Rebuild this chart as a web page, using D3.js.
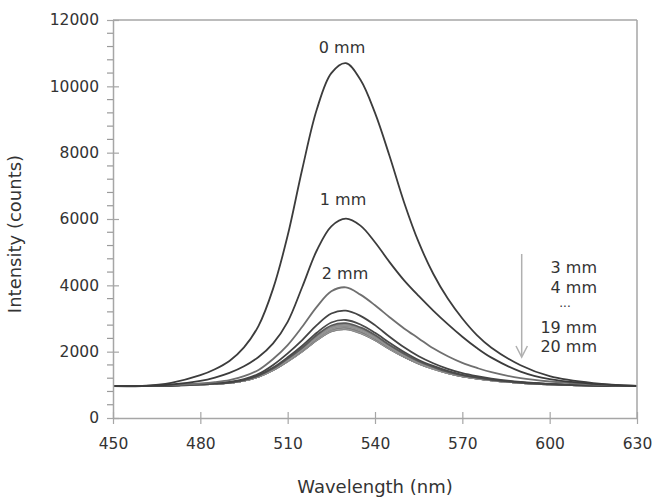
<!DOCTYPE html>
<html>
<head>
<meta charset="utf-8">
<script src="https://cdn.jsdelivr.net/npm/d3@7"></script>
<style>
  body { margin: 0; background: #fff; }
  svg text { font-family: "DejaVu Sans", sans-serif; fill: #333; }
</style>
</head>
<body>
<div id="chart"></div>
<script>
// wavelength grid (nm) where the curves were read
const wavelengths = [450, 460, 470, 480, 485, 490, 495, 500, 505, 510, 515, 520, 525, 530, 535, 540, 545, 550, 555, 560, 565, 570, 575, 580, 590, 600, 615, 630];

// intensity (counts) per distance
const mm0  = [960, 970, 1060, 1290, 1470, 1720, 2130, 2780, 3900, 5500, 7500, 9300, 10400, 10700, 10200, 9200, 7900, 6500, 5300, 4350, 3600, 3000, 2500, 2120, 1590, 1260, 1050, 965];
const mm1  = [960, 963, 1010, 1120, 1220, 1360, 1560, 1840, 2250, 2900, 3950, 5050, 5780, 6010, 5800, 5300, 4700, 4150, 3680, 3240, 2830, 2450, 2110, 1820, 1400, 1170, 1030, 965];
const mm2  = [960, 962, 990, 1040, 1080, 1140, 1260, 1450, 1780, 2200, 2750, 3350, 3820, 3940, 3720, 3400, 3040, 2700, 2400, 2100, 1860, 1660, 1510, 1380, 1200, 1100, 1010, 965];
const mm3  = [960, 960, 980, 1025, 1050, 1085, 1170, 1330, 1600, 1950, 2350, 2800, 3150, 3235, 3080, 2800, 2450, 2130, 1860, 1650, 1480, 1350, 1260, 1190, 1090, 1030, 980, 965];
const mm4  = [960, 960, 980, 1015, 1040, 1070, 1150, 1290, 1520, 1830, 2180, 2570, 2880, 2955, 2820, 2570, 2270, 1990, 1750, 1570, 1420, 1300, 1225, 1160, 1070, 1020, 980, 965];
const mm5  = [960, 960, 980, 1015, 1040, 1070, 1140, 1280, 1490, 1790, 2120, 2500, 2790, 2860, 2730, 2500, 2200, 1940, 1710, 1540, 1390, 1290, 1215, 1150, 1070, 1020, 980, 965];
const mm6  = [960, 960, 975, 1012, 1035, 1065, 1140, 1270, 1485, 1770, 2100, 2465, 2750, 2820, 2695, 2465, 2180, 1915, 1695, 1525, 1385, 1280, 1210, 1150, 1065, 1015, 975, 965];
const mm7  = [960, 960, 975, 1012, 1035, 1065, 1135, 1265, 1475, 1755, 2080, 2440, 2720, 2790, 2665, 2440, 2160, 1900, 1685, 1515, 1380, 1275, 1205, 1145, 1065, 1015, 975, 965];
const mm8  = [960, 960, 975, 1012, 1035, 1065, 1135, 1260, 1470, 1750, 2065, 2425, 2705, 2770, 2650, 2425, 2145, 1890, 1675, 1510, 1375, 1270, 1200, 1145, 1065, 1015, 975, 965];
const mm9  = [960, 960, 975, 1012, 1033, 1060, 1135, 1260, 1465, 1740, 2055, 2410, 2690, 2755, 2635, 2410, 2135, 1885, 1670, 1505, 1370, 1270, 1200, 1140, 1060, 1015, 975, 965];
const mm10 = [960, 960, 975, 1012, 1033, 1060, 1130, 1255, 1460, 1735, 2045, 2400, 2675, 2740, 2620, 2400, 2125, 1875, 1665, 1500, 1365, 1265, 1195, 1140, 1060, 1015, 975, 965];
const mm11 = [960, 960, 975, 1012, 1033, 1060, 1130, 1255, 1460, 1730, 2040, 2390, 2665, 2730, 2610, 2390, 2120, 1870, 1660, 1495, 1365, 1265, 1195, 1140, 1060, 1015, 975, 965];
const mm12 = [960, 960, 975, 1012, 1033, 1060, 1130, 1255, 1455, 1725, 2035, 2385, 2655, 2720, 2600, 2385, 2115, 1865, 1655, 1495, 1360, 1260, 1195, 1140, 1060, 1015, 975, 965];
const mm13 = [960, 960, 975, 1012, 1033, 1060, 1130, 1255, 1455, 1720, 2030, 2375, 2645, 2712, 2590, 2375, 2105, 1860, 1655, 1490, 1360, 1260, 1190, 1135, 1060, 1015, 975, 965];
const mm14 = [960, 960, 975, 1012, 1033, 1060, 1130, 1250, 1450, 1720, 2025, 2370, 2640, 2705, 2585, 2370, 2105, 1855, 1650, 1490, 1360, 1260, 1190, 1135, 1060, 1015, 975, 965];
const mm15 = [960, 960, 975, 1012, 1033, 1060, 1130, 1250, 1450, 1715, 2020, 2365, 2635, 2698, 2580, 2365, 2100, 1855, 1650, 1485, 1355, 1260, 1190, 1135, 1060, 1015, 975, 965];
const mm16 = [960, 960, 975, 1012, 1033, 1060, 1125, 1250, 1445, 1715, 2020, 2360, 2625, 2692, 2575, 2360, 2095, 1850, 1645, 1485, 1355, 1255, 1190, 1135, 1060, 1015, 975, 965];
const mm17 = [960, 960, 975, 1012, 1033, 1060, 1125, 1250, 1445, 1710, 2015, 2355, 2620, 2686, 2570, 2355, 2090, 1850, 1645, 1485, 1355, 1255, 1190, 1135, 1060, 1015, 975, 965];
const mm18 = [960, 960, 975, 1012, 1033, 1060, 1125, 1245, 1445, 1710, 2010, 2350, 2615, 2681, 2565, 2350, 2085, 1845, 1640, 1480, 1355, 1255, 1190, 1135, 1060, 1015, 975, 965];
const mm19 = [960, 960, 975, 1012, 1033, 1060, 1125, 1245, 1445, 1705, 2010, 2350, 2615, 2677, 2560, 2350, 2085, 1845, 1640, 1480, 1355, 1255, 1190, 1135, 1060, 1015, 975, 965];
const mm20 = [960, 960, 975, 1012, 1033, 1060, 1125, 1245, 1440, 1705, 2005, 2345, 2610, 2673, 2555, 2345, 2080, 1840, 1640, 1480, 1350, 1255, 1190, 1135, 1060, 1015, 975, 965];

const xTicks = [450, 480, 510, 540, 570, 600, 630];
const yTicks = [0, 2000, 4000, 6000, 8000, 10000, 12000];
const peakLabels = ['0 mm', '1 mm', '2 mm'];
const noteLabels = ['3 mm', '4 mm', '19 mm', '20 mm'];

const W = 659, H = 498;
const margin = { left: 113, right: 22, top: 20, bottom: 80 };

const svg = d3.select('#chart').append('svg').attr('width', W).attr('height', H);

const x = d3.scaleLinear().domain([450, 630]).range([margin.left, W - margin.right]);
const y = d3.scaleLinear().domain([0, 12000]).range([H - margin.bottom, margin.top]);

// curves: the crowd of far ones first, near ones on top
const series = [
  { v: mm20, c: '#8c8c8c' }, { v: mm19, c: '#a8a8a8' }, { v: mm18, c: '#7a7a7a' }, { v: mm17, c: '#9a9a9a' },
  { v: mm16, c: '#6e6e6e' }, { v: mm15, c: '#a0a0a0' }, { v: mm14, c: '#808080' }, { v: mm13, c: '#b0b0b0' },
  { v: mm12, c: '#777777' }, { v: mm11, c: '#9c9c9c' }, { v: mm10, c: '#6a6a6a' }, { v: mm9,  c: '#a4a4a4' },
  { v: mm8,  c: '#888888' }, { v: mm7,  c: '#999999' }, { v: mm6,  c: '#8a8a8a' }, { v: mm5,  c: '#5a5a5a' },
  { v: mm4,  c: '#4a4a4a' }, { v: mm3,  c: '#444444' }, { v: mm2,  c: '#6f6f6f' }, { v: mm1,  c: '#3c3c3c' },
  { v: mm0,  c: '#3c3c3c' }
];

const line = d3.line()
  .x((d, i) => x(wavelengths[i]))
  .y(d => y(d))
  .curve(d3.curveCatmullRom.alpha(0.5));

svg.append('g').attr('class', 'curves')
  .selectAll('path')
  .data(series)
  .enter()
  .append('path')
  .attr('d', d => line(d.v))
  .attr('fill', 'none')
  .attr('stroke', d => d.c)
  .attr('stroke-width', 1.8);

// frame + axes
const axisColor = '#a6a6a6';
svg.append('line').attr('x1', x(450)).attr('x2', x(630)).attr('y1', y(12000)).attr('y2', y(12000))
  .attr('stroke', axisColor).attr('stroke-width', 1.5);
svg.append('line').attr('x1', x(630)).attr('x2', x(630)).attr('y1', y(12000)).attr('y2', y(0))
  .attr('stroke', axisColor).attr('stroke-width', 1.5);

const yAxis = svg.append('g')
  .attr('transform', `translate(${margin.left},0)`)
  .call(d3.axisLeft(y).tickValues(yTicks).tickSize(6).tickSizeOuter(0).tickPadding(8).tickFormat(d3.format('d')));
yAxis.selectAll('.tick line').attr('x1', 6).attr('x2', -6);

const xAxis = svg.append('g')
  .attr('transform', `translate(0,${y(0)})`)
  .call(d3.axisBottom(x).tickValues(xTicks).tickSize(6).tickSizeOuter(0).tickPadding(14).tickFormat(d3.format('d')));
xAxis.selectAll('.tick line').attr('y1', -6).attr('y2', 6);

[yAxis, xAxis].forEach(a => {
  a.select('.domain').attr('stroke', axisColor).attr('stroke-width', 1.5);
  a.selectAll('.tick line').attr('stroke', axisColor).attr('stroke-width', 1.2);
  a.selectAll('.tick text').attr('font-size', 15.5).attr('font-family', '"DejaVu Sans", sans-serif').attr('fill', '#333');
});

// minor y ticks (outside only)
const minor = d3.range(0, 12001, 400).filter(v => v % 2000 !== 0);
svg.append('g').attr('class', 'minor')
  .selectAll('line').data(minor).enter().append('line')
  .attr('x1', margin.left - 6).attr('x2', margin.left)
  .attr('y1', d => y(d)).attr('y2', d => y(d))
  .attr('stroke', '#9a9a9a').attr('stroke-width', 1.2);

// axis titles
svg.append('text')
  .text('Wavelength (nm)')
  .attr('x', (x(450) + x(630)) / 2)
  .attr('y', 493)
  .attr('text-anchor', 'middle')
  .attr('font-size', 18);

svg.append('text')
  .text('Intensity (counts)')
  .attr('transform', 'translate(21,234) rotate(-90)')
  .attr('text-anchor', 'middle')
  .attr('font-size', 18);

// labels above peaks
const peakPos = [[342, 53], [343, 205], [345, 279]];
svg.append('g').selectAll('text').data(peakLabels).enter().append('text')
  .text(d => d)
  .attr('x', (d, i) => peakPos[i][0])
  .attr('y', (d, i) => peakPos[i][1])
  .attr('text-anchor', 'middle')
  .attr('font-size', 16);

// note on the right with arrow
const noteY = [273, 292.7, 332.7, 352];
svg.append('g').selectAll('text').data(noteLabels).enter().append('text')
  .text(d => d)
  .attr('x', 597)
  .attr('y', (d, i) => noteY[i])
  .attr('text-anchor', 'end')
  .attr('font-size', 16);
svg.append('text').text('...')
  .attr('x', 565).attr('y', 307)
  .attr('text-anchor', 'middle')
  .attr('font-size', 12)
  .attr('fill', '#555');

const arrow = svg.append('g').attr('stroke', '#b0b0b0').attr('stroke-width', 1.5).attr('fill', 'none');
arrow.append('line').attr('x1', 521.7).attr('x2', 521.7).attr('y1', 254).attr('y2', 356);
arrow.append('polyline').attr('points', '516,346 521.7,357 527.4,346');
</script>
</body>
</html>
